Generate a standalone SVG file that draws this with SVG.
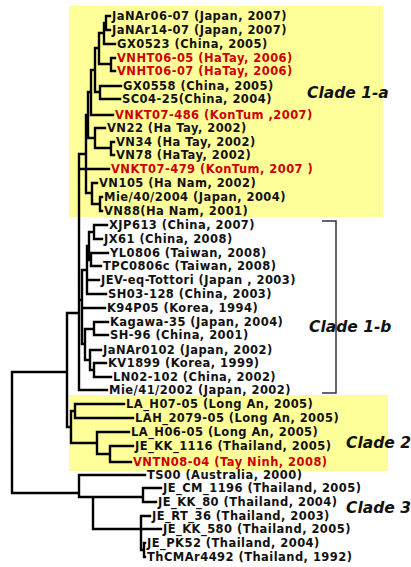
<svg xmlns="http://www.w3.org/2000/svg" width="411" height="567" viewBox="0 0 411 567">
<style>
.bg{fill:#ffff99}
.t{font-family:"DejaVu Sans","Verdana",sans-serif;font-weight:bold;font-size:11.5px;letter-spacing:0.45px;fill:#111}
.r{fill:#cc0000}
.cl{font-family:"DejaVu Sans",sans-serif;font-weight:bold;font-style:italic;font-size:15.5px;fill:#111}
.br{fill:none;stroke:#000;stroke-width:2.4;stroke-linecap:square}
.bk{fill:none;stroke:#333;stroke-width:1.5}
</style>
<rect class="bg" x="69" y="6" width="314" height="211"/>
<rect class="bg" x="69" y="395" width="319" height="76"/>
<g id="connectors">
<path class="br" d="M106 16H110M106 30H110M106 16V30
M104 23H106M104 44H115M104 23V44
M111 58H115M111 71H115M111 58V71
M99 33H104M99 64H111M99 33V64
M100 86H121M100 99H120M100 86V99
M95 48H99M95 92H100M95 48V92
M91 70H95M91 115H113M91 70V115
M111 142H114M111 155H114M111 142V155
M95 128H105M95 148H111M95 128V148
M88 92H91M88 138H95M88 92V138
M100 197H102M100 211H102M100 197V211
M92 183H97M92 204H100M92 183V204
M86 115H88M86 193H92M86 115V193
M94 225H107M94 239H102M94 225V239
M91 253H108M91 266H101M91 253V266
M89 232H94M89 260H91M89 232V260
M87 246H89M87 280H99M87 294H106M87 246V294
M94 322H108M94 335H108M94 322V335
M94 363H106M94 377H111M94 363V377
M90 350H101M90 370H94M90 350V370
M85 329H94M85 360H90M85 329V360
M82 270H87M82 308H105M82 344H85M82 270V344
M79 154V390M79 154H86M79 169H109M79 300H82M79 390H107M67 313H79
M75 404H124M75 418H133M75 404V418
M110 446H133M110 462H131M110 446V462
M97 432H129M97 454H110M97 432V454
M71 411H75M71 443H97M71 411V443
M67 313V427H71
M143 488H161M143 502H156M143 488V502
M144 543H145M144 557H145M144 543V557
M141 516H150M141 529H161M141 550H144M141 516V550
M93 497H143M93 529H141M93 497V529
M79 475H145M79 497H93M79 475V497
M12 372H67M12 372V493H79"/>
<path class="bk" d="M322 221H336V393H322"/>
</g>
<g id="n1"><text class="t" x="112" y="20">JaNAr06-07 (Japan, 2007)</text></g>
<g id="n2"><text class="t" x="112" y="34">JaNAr14-07 (Japan, 2007)</text></g>
<g id="n3"><text class="t" x="117" y="48">GX0523 (China, 2005)</text></g>
<g id="n4"><text class="t r" x="117" y="62">VNHT06-05 (HaTay, 2006)</text></g>
<g id="n5"><text class="t r" x="117" y="75">VNHT06-07 (HaTay, 2006)</text></g>
<g id="n6"><text class="t" x="123" y="90">GX0558 (China, 2005)</text></g>
<g id="n7"><text class="t" x="122" y="103">SC04-25(China, 2004)</text></g>
<g id="n8"><text class="t r" x="115" y="119">VNKT07-486 (KonTum ,2007)</text></g>
<g id="n9"><text class="t" x="107" y="132">VN22 (Ha Tay, 2002)</text></g>
<g id="n10"><text class="t" x="116" y="146">VN34 (Ha Tay, 2002)</text></g>
<g id="n11"><text class="t" x="116" y="159">VN78 (HaTay, 2002)</text></g>
<g id="n12"><text class="t r" x="111" y="173">VNKT07-479 (KonTum, 2007 )</text></g>
<g id="n13"><text class="t" x="99" y="187">VN105 (Ha Nam, 2002)</text></g>
<g id="n14"><text class="t" x="104" y="201">Mie/40/2004 (Japan, 2004)</text></g>
<g id="n15"><text class="t" x="104" y="215">VN88(Ha Nam, 2001)</text></g>
<g id="n16"><text class="t" x="109" y="229">XJP613 (China, 2007)</text></g>
<g id="n17"><text class="t" x="104" y="243">JX61 (China, 2008)</text></g>
<g id="n18"><text class="t" x="110" y="257">YL0806 (Taiwan, 2008)</text></g>
<g id="n19"><text class="t" x="103" y="270">TPC0806c (Taiwan, 2008)</text></g>
<g id="n20"><text class="t" x="101" y="284">JEV-eq-Tottori (Japan , 2003)</text></g>
<g id="n21"><text class="t" x="108" y="298">SH03-128 (China, 2003)</text></g>
<g id="n22"><text class="t" x="107" y="312">K94P05 (Korea, 1994)</text></g>
<g id="n23"><text class="t" x="110" y="326">Kagawa-35 (Japan, 2004)</text></g>
<g id="n24"><text class="t" x="110" y="339">SH-96 (China, 2001)</text></g>
<g id="n25"><text class="t" x="103" y="354">JaNAr0102 (Japan, 2002)</text></g>
<g id="n26"><text class="t" x="108" y="367">KV1899 (Korea, 1999)</text></g>
<g id="n27"><text class="t" x="113" y="381">LN02-102 (China, 2002)</text></g>
<g id="n28"><text class="t" x="109" y="394">Mie/41/2002 (Japan, 2002)</text></g>
<g id="n29"><text class="t" x="126" y="408">LA_H07-05 (Long An, 2005)</text></g>
<g id="n30"><text class="t" x="135" y="422">LAH_2079-05 (Long An, 2005)</text></g>
<g id="n31"><text class="t" x="131" y="436">LA_H06-05 (Long An, 2005)</text></g>
<g id="n32"><text class="t" x="135" y="450">JE_KK_1116 (Thailand, 2005)</text></g>
<g id="n33"><text class="t r" x="133" y="466">VNTN08-04 (Tay Ninh, 2008)</text></g>
<g id="n34"><text class="t" x="147" y="479">TS00 (Australia, 2000)</text></g>
<g id="n35"><text class="t" x="163" y="492">JE_CM_1196 (Thailand, 2005)</text></g>
<g id="n36"><text class="t" x="158" y="506">JE_KK_80 (Thailand, 2004)</text></g>
<g id="n37"><text class="t" x="152" y="520">JE_RT_36 (Thailand, 2003)</text></g>
<g id="n38"><text class="t" x="163" y="533">JE_KK_580 (Thailand, 2005)</text></g>
<g id="n39"><text class="t" x="147" y="547">JE_PK52 (Thailand, 2004)</text></g>
<g id="n40"><text class="t" x="147" y="561">ThCMAr4492 (Thailand, 1992)</text></g>
<g id="clade1a"><text class="cl" x="307" y="97.5">Clade 1-a</text></g>
<g id="clade1b"><text class="cl" x="309" y="331.5">Clade 1-b</text></g>
<g id="clade2"><text class="cl" x="346" y="447.5">Clade 2</text></g>
<g id="clade3"><text class="cl" x="346" y="512.5">Clade 3</text></g>
</svg>
